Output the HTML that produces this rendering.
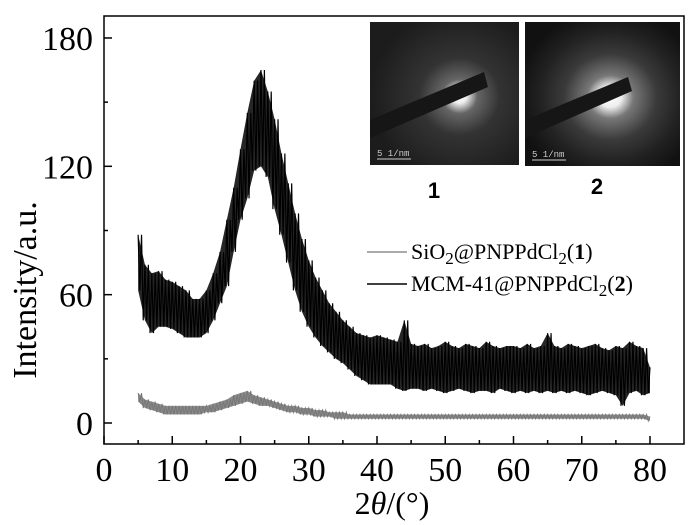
<!DOCTYPE html>
<html><head><meta charset="utf-8"><style>
body{margin:0;background:#fff}
svg{display:block;font-family:"Liberation Serif",serif}
</style></head><body>
<svg id="chart" width="700" height="525" viewBox="0 0 700 525">
<defs>
<radialGradient id="g1" cx="0.6" cy="0.52" r="0.6"><stop offset="0" stop-color="#fff"/><stop offset="0.08" stop-color="#eee"/><stop offset="0.2" stop-color="#666"/><stop offset="0.45" stop-color="#333"/><stop offset="1" stop-color="#1c1c1c"/></radialGradient>
<radialGradient id="g2" cx="0.55" cy="0.52" r="0.6"><stop offset="0" stop-color="#fff"/><stop offset="0.12" stop-color="#eee"/><stop offset="0.25" stop-color="#777"/><stop offset="0.5" stop-color="#3a3a3a"/><stop offset="0.75" stop-color="#222"/><stop offset="1" stop-color="#111"/></radialGradient>
</defs>
<rect x="104" y="16" width="580" height="428" fill="none" stroke="#000" stroke-width="1.5"/>
<g id="ticks"></g>
<g id="series"></g>
<text transform="translate(36,290) rotate(-90)" text-anchor="middle" font-size="34">Intensity/a.u.</text>
<text x="392" y="514" text-anchor="middle" font-size="32">2<tspan font-style="italic">θ</tspan>/(°)</text>
<g>
<line x1="367" y1="252" x2="407" y2="252" stroke="#777" stroke-width="1.2"/>
<text x="411" y="259" font-size="22">SiO<tspan font-size="17" dy="5">2</tspan><tspan dy="-5">@PNPPdCl</tspan><tspan font-size="17" dy="5">2</tspan><tspan dy="-5">(</tspan><tspan font-weight="bold">1</tspan>)</text>
<line x1="367" y1="284" x2="407" y2="284" stroke="#000" stroke-width="1.5"/>
<text x="411" y="291" font-size="22">MCM-41@PNPPdCl<tspan font-size="17" dy="5">2</tspan><tspan dy="-5">(</tspan><tspan font-weight="bold">2</tspan>)</text>
</g>
<g>
<rect x="370" y="22" width="149" height="143" fill="url(#g1)"/>
<polygon points="370,120 484,72 488,87 370,138" fill="#161616"/>
<line x1="377" y1="159" x2="411" y2="159" stroke="#ccc" stroke-width="1"/>
<text x="377" y="156" font-family="Liberation Mono,monospace" font-size="9" fill="#ccc">5 1/nm</text>
</g>
<g>
<rect x="525" y="22" width="155" height="144" fill="url(#g2)"/>
<polygon points="525,120 628,77 632,91 525,138" fill="#161616"/>
<line x1="532" y1="160" x2="566" y2="160" stroke="#ccc" stroke-width="1"/>
<text x="532" y="157" font-family="Liberation Mono,monospace" font-size="9" fill="#ccc">5 1/nm</text>
</g>
<text x="434" y="198" text-anchor="middle" font-family="Liberation Sans,sans-serif" font-weight="bold" font-size="22">1</text>
<text x="597" y="194" text-anchor="middle" font-family="Liberation Sans,sans-serif" font-weight="bold" font-size="22">2</text>
</svg>
<script>
const xTicks=[0,10,20,30,40,50,60,70,80];
const yTicks=[0,60,120,180];
const angles=[5,6,7,8,9,10,11,12,13,14,15,16,17,18,19,20,21,22,23,24,25,26,27,28,29,30,31,32,33,34,35,36,37,38,39,40,41,42,43,44,45,46,47,48,49,50,51,52,53,54,55,56,57,58,59,60,61,62,63,64,65,66,67,68,69,70,71,72,73,74,75,76,77,78,79,80];
const mcmHigh=[88,74,70,71,67,66,64,62,58,58,62,70,80,95,110,128,145,160,165,155,142,126,112,98,86,76,68,62,56,52,48,45,42,41,40,41,40,39,38,48,37,36,37,35,36,38,36,35,37,36,35,38,36,35,36,36,35,37,35,36,42,36,35,37,36,35,36,37,35,34,36,35,38,36,35,26];
const mcmLow=[62,48,42,45,45,44,42,40,40,40,42,48,56,64,80,95,105,118,120,115,100,88,75,62,52,45,40,36,33,30,28,25,22,20,18,18,18,18,16,15,16,16,15,16,15,14,15,16,15,14,15,15,14,16,15,14,15,14,15,14,15,14,15,14,15,14,13,14,15,14,13,8,14,15,13,14];
const sio2High=[14,11,10,9,8,8,8,8,8,8,8,9,10,11,13,14,15,13,12,11,10,9,8,8,7,7,6,6,5,5,5,4,4,4,4,4,4,4,4,4,4,4,4,4,4,4,4,4,4,4,4,4,4,4,4,4,4,4,4,4,4,4,4,4,4,4,4,4,4,4,4,4,4,4,4,3];
const sio2Low=[10,7,6,5,4,4,4,4,4,4,5,5,6,7,8,9,10,9,8,8,7,6,5,5,4,4,3,3,3,2,2,2,2,2,2,2,2,2,2,2,2,2,2,2,2,2,2,2,2,2,2,2,2,2,2,2,2,2,2,2,2,2,2,2,2,2,2,2,2,2,2,2,2,2,2,1];
const X=v=>104+v*6.825, Y=v=>423-v*2.139;
const NS="http://www.w3.org/2000/svg";
const tg=document.getElementById('ticks');
function mk(tag,attrs,parent){const e=document.createElementNS(NS,tag);for(const k in attrs)e.setAttribute(k,attrs[k]);parent.appendChild(e);return e;}
xTicks.forEach(t=>{
 const l=mk('line',{x1:X(t),x2:X(t),y1:444,y2:436,stroke:'#000','stroke-width':1.5},tg);
 
 
 if(t<80){const m=mk('line',{x1:X(t+5),x2:X(t+5),y1:444,y2:440,stroke:'#000','stroke-width':1.5},tg);
 
 }
 const tx=mk('text',{x:X(t),y:481,'text-anchor':'middle','font-size':34},tg);tx.textContent=t;
 
 
});
yTicks.forEach(t=>{
 const l=mk('line',{x1:104,x2:112,y1:Y(t),y2:Y(t),stroke:'#000','stroke-width':1.5},tg);
 
 
 if(t<180){const m=mk('line',{x1:104,x2:108,y1:Y(t+30),y2:Y(t+30),stroke:'#000','stroke-width':1.5},tg);
 
 }
 const tx=mk('text',{x:93,y:Y(t)+12,'text-anchor':'end','font-size':34},tg);tx.textContent=t;
 
 
});
const sg=document.getElementById('series');
function band(hi,lo,color,name,w){
 let up=[],dn=[],zig=[];
 angles.forEach((a,i)=>{up.push(X(a)+','+Y(hi[i]));dn.unshift(X(a)+','+Y(lo[i]));
  zig.push(X(a)+','+Y(hi[i]));
  if(i<angles.length-1){zig.push(X(a+0.25)+','+Y(lo[i]));zig.push(X(a+0.5)+','+Y(hi[i]));zig.push(X(a+0.75)+','+Y(lo[i+1]));}
 });
 const p=mk('polygon',{points:up.concat(dn).join(' '),fill:color,opacity:0.85},sg);
 
 
 const z=mk('polyline',{points:zig.join(' '),fill:'none',stroke:color,'stroke-width':w},sg);
 
 
}
band(sio2High,sio2Low,'#777','series-sio2',1);
band(mcmHigh,mcmLow,'#000','series-mcm41',1.2);
</script>
</body></html>
